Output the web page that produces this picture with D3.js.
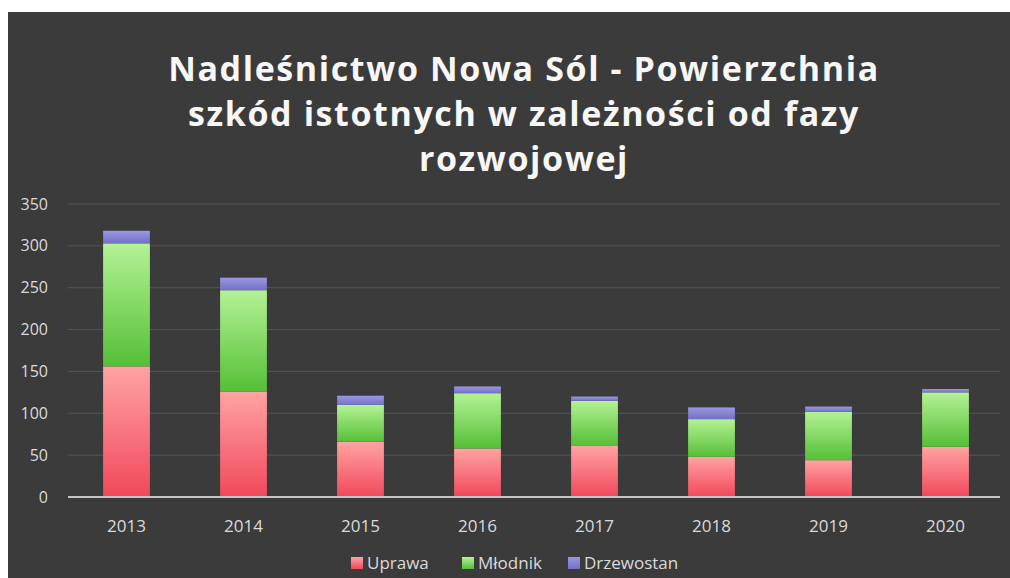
<!DOCTYPE html>
<html>
<head>
<meta charset="utf-8">
<script src="https://cdn.jsdelivr.net/npm/d3@7"></script>
<style>
	body { margin:0 ; background:#fff ; }
	svg { display:block ; }
	text { font-family:"Open Sans", "DejaVu Sans", sans-serif ; }
</style>
</head>
<body>
<svg id="chart" width="1010" height="578"></svg>
<script>

// data
const years = [ "2013", "2014", "2015", "2016", "2017", "2018", "2019", "2020" ] ;
const uprawa = [ 156, 126, 66, 58, 61, 48, 44, 60 ] ;
const mlodnik = [ 147, 121, 44, 66, 54, 45, 58, 65 ] ;
const drzewostan = [ 15, 15, 11, 8, 5, 14, 6, 4 ] ;
const seriesNames = [ "Uprawa", "Młodnik", "Drzewostan" ] ;
const yTicks = [ 0, 50, 100, 150, 200, 250, 300, 350 ] ;
const titleLines = [
	"Nadleśnictwo Nowa Sól - Powierzchnia",
	"szkód istotnych w zależności od fazy",
	"rozwojowej"
] ;

const width = 1010 ;
const height = 578 ;
const margin = { left:68, right:6, top:204, bottom:81 } ;

const svg = d3.select( "#chart" ) ;

// gradients for the bars and the legend keys
const grads = [
	{ id:"gUprawa", top:"#ffa3a3", bottom:"#f1485a" },
	{ id:"gMlodnik", top:"#b4f296", bottom:"#55bf36" },
	{ id:"gDrzewostan", top:"#9a98e4", bottom:"#7470c4" }
] ;
const defs = svg.append( "defs" ) ;
grads.forEach( function(g) {
	const lg = defs.append( "linearGradient" )
		.attr( "id", g.id )
		.attr( "x1", 0 ).attr( "y1", 0 )
		.attr( "x2", 0 ).attr( "y2", 1 ) ;
	lg.append( "stop" ).attr( "offset", "0%" ).attr( "stop-color", g.top ) ;
	lg.append( "stop" ).attr( "offset", "100%" ).attr( "stop-color", g.bottom ) ;
}) ;

// dark panel with a white edge at top and left
svg.append( "rect" )
	.attr( "x", 8 ).attr( "y", 12 )
	.attr( "width", width-8 ).attr( "height", height-12 )
	.attr( "fill", "#3b3b3b" ) ;

const x = d3.scaleBand()
	.domain( years )
	.range( [ margin.left, width-margin.right ] )
	.paddingInner( 0.6 )
	.paddingOuter( 0.3 ) ;

const y = d3.scaleLinear()
	.domain( [ 0, 350 ] )
	.range( [ height-margin.bottom, margin.top ] ) ;

// grid lines
svg.append( "g" )
	.selectAll( "line" )
	.data( yTicks.filter( d => d>0 ) )
	.enter().append( "line" )
		.attr( "x1", margin.left ).attr( "x2", 1000 )
		.attr( "y1", d => y(d) ).attr( "y2", d => y(d) )
		.attr( "stroke", "#555555" )
		.attr( "stroke-width", 1 ) ;

// y axis labels
const yAxis = svg.append( "g" )
	.attr( "transform", "translate(" + 48 + ",0)" )
	.call( d3.axisLeft( y ).tickValues( yTicks ).tickSize( 0 ).tickPadding( 0 ) ) ;
yAxis.select( ".domain" ).remove() ;
yAxis.selectAll( "text" )
	.style( "font-size", "16px" )
	.style( "font-family", "'Open Sans', sans-serif" )
	.style( "fill", "#dadada" ) ;

// stacked bars
const rows = years.map( function(yr, i) {
	return { year:yr, Uprawa:uprawa[i], "Młodnik":mlodnik[i], Drzewostan:drzewostan[i] } ;
}) ;
const stacked = d3.stack().keys( seriesNames )( rows ) ;

svg.append( "g" )
	.selectAll( "g" )
	.data( stacked )
	.enter().append( "g" )
		.attr( "fill", (d, i) => "url(#" + grads[i].id + ")" )
	.selectAll( "rect" )
	.data( d => d )
	.enter().append( "rect" )
		.attr( "x", d => x(d.data.year) )
		.attr( "width", x.bandwidth() )
		.attr( "y", d => y(d[1]) )
		.attr( "height", d => y(d[0]) - y(d[1]) ) ;

// x axis
const xAxis = svg.append( "g" )
	.attr( "transform", "translate(0," + y(0) + ")" )
	.call( d3.axisBottom( x ).tickSize( 0 ).tickPadding( 23 ) ) ;
xAxis.select( ".domain" )
	.attr( "d", "M" + margin.left + ",0H1000" )
	.attr( "stroke", "#c4c4c4" )
	.attr( "stroke-width", 2 ) ;
xAxis.selectAll( "text" )
	.style( "font-size", "17px" )
	.style( "font-family", "'Open Sans', sans-serif" )
	.style( "fill", "#dadada" ) ;

// title
svg.append( "g" )
	.selectAll( "text" )
	.data( titleLines )
	.enter().append( "text" )
		.attr( "x", 524 )
		.attr( "y", (d, i) => 81 + i*45 )
		.attr( "text-anchor", "middle" )
		.style( "font-size", "34px" )
		.style( "font-weight", "bold" )
		.style( "letter-spacing", "1.6px" )
		.style( "fill", "#f7f7f7" )
		.text( d => d ) ;

// legend
const legendX = [ 351, 462, 568 ] ;
const legend = svg.append( "g" )
	.selectAll( "g" )
	.data( seriesNames )
	.enter().append( "g" )
		.attr( "transform", (d, i) => "translate(" + legendX[i] + ",557)" ) ;
legend.append( "rect" )
	.attr( "width", 12 ).attr( "height", 12 )
	.attr( "fill", (d, i) => "url(#" + grads[i].id + ")" ) ;
legend.append( "text" )
	.attr( "x", 16 ).attr( "y", 12 )
	.style( "font-size", "17px" )
	.style( "fill", "#dadada" )
	.text( d => d ) ;

</script>
</body>
</html>
